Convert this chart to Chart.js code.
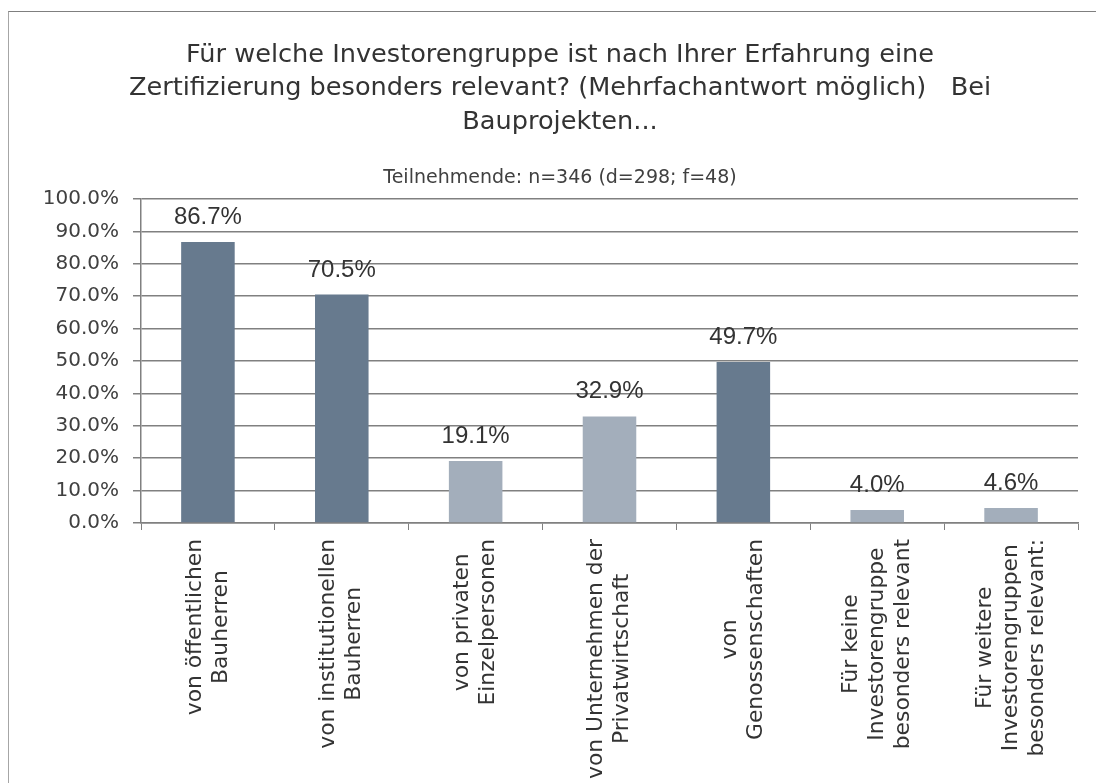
<!DOCTYPE html>
<html><head><meta charset="utf-8">
<script src="https://cdn.jsdelivr.net/npm/chart.js@4.4.1/dist/chart.umd.min.js"></script>
<style>
html,body{margin:0;padding:0;background:#fff;overflow:hidden;width:1096px;height:783px;}
#frame{position:absolute;left:8px;top:11px;width:1200px;height:900px;border-top:1px solid #7f7f7f;border-left:1px solid #a6a6a6;}
#wrap{position:absolute;left:42px;top:0;width:1054px;height:783px;}
</style></head><body>
<div id="frame"></div>
<div id="wrap"><canvas id="c" width="1054" height="783"></canvas></div>
<script>
const titleLines = [
  'Für welche Investorengruppe ist nach Ihrer Erfahrung eine',
  'Zertifizierung besonders relevant? (Mehrfachantwort möglich)   Bei',
  'Bauprojekten...'
];
const subtitleText = 'Teilnehmende: n=346 (d=298; f=48)';
const categories = [
  ['von öffentlichen', 'Bauherren'],
  ['von institutionellen', 'Bauherren'],
  ['von privaten', 'Einzelpersonen'],
  ['von Unternehmen der', 'Privatwirtschaft'],
  ['von', 'Genossenschaften'],
  ['Für keine', 'Investorengruppe', 'besonders relevant'],
  ['Für weitere', 'Investorengruppen', 'besonders relevant:']
];
const values = [86.7, 70.5, 19.1, 32.9, 49.7, 4.0, 4.6];
const yTickValues = [0, 10, 20, 30, 40, 50, 60, 70, 80, 90, 100];

const DARK = '#677a8e', LIGHT = '#a3aebb';
const FONT = 'DejaVu Sans';

const xLabelPlugin = {
  id: 'xLabels',
  afterDraw(chart) {
    const ctx = chart.ctx, xs = chart.scales.x, bottom = chart.chartArea.bottom;
    ctx.save();
    ctx.font = '21.8px "' + FONT + '"';
    ctx.fillStyle = '#333333';
    ctx.textAlign = 'center';
    ctx.textBaseline = 'middle';
    chart.data.labels.forEach((lines, i) => {
      const cx = xs.getPixelForValue(i);
      const maxW = Math.max(...lines.map(l => ctx.measureText(l).width));
      const cy = bottom + 16 + maxW / 2;
      lines.forEach((l, j) => {
        const x = cx + (j - (lines.length - 1) / 2) * 26;
        ctx.save(); ctx.translate(x, cy); ctx.rotate(-Math.PI / 2); ctx.fillText(l, 0, 0); ctx.restore();
      });
    });
    ctx.restore();
  }
};
const valueLabelPlugin = {
  id: 'valueLabels',
  afterDatasetsDraw(chart) {
    const ctx = chart.ctx;
    const meta = chart.getDatasetMeta(0);
    ctx.save();
    ctx.font = '24px "Liberation Sans"';
    ctx.fillStyle = '#333333';
    ctx.textAlign = 'center';
    ctx.textBaseline = 'alphabetic';
    meta.data.forEach((bar, i) => {
      const v = chart.data.datasets[0].data[i];
      ctx.fillText(v.toFixed(1) + '%', bar.x, bar.y - 18);
    });
    ctx.restore();
  }
};

new Chart(document.getElementById('c'), {
  type: 'bar',
  data: {
    labels: categories,
    datasets: [{
      data: values,
      backgroundColor: [DARK, DARK, LIGHT, LIGHT, DARK, LIGHT, LIGHT],
      borderWidth: 0,
      barPercentage: 0.4,
      categoryPercentage: 1.0
    }]
  },
  options: {
    responsive: false,
    animation: false,
    devicePixelRatio: 1,
    layout: { padding: { left: 0, right: 18, top: 0, bottom: 0 } },
    plugins: {
      legend: { display: false },
      tooltip: { enabled: false },
      title: {
        display: true,
        text: titleLines,
        color: '#333333',
        font: { family: FONT, size: 25.6, weight: 'normal', lineHeight: '33.5px' },
        padding: { top: 38.25, bottom: 0 }
      },
      subtitle: {
        display: true,
        text: subtitleText,
        color: '#404040',
        font: { family: FONT, size: 19, weight: 'normal', lineHeight: '20px' },
        padding: { top: 28.85, bottom: 11.4 }
      }
    },
    scales: {
      x: {
        offset: true,
        ticks: { display: false },
        grid: { drawOnChartArea: false, offset: true, color: '#808080', tickLength: 7, lineWidth: 1 },
        border: { color: '#808080', width: 1.5 },
        afterFit(s) { s.height = 260; }
      },
      y: {
        min: 0, max: 100,
        afterBuildTicks(s) { s.ticks = yTickValues.map(v => ({ value: v })); },
        ticks: {
          callback: v => v.toFixed(1) + '%',
          font: { family: FONT, size: 20 },
          color: '#404040',
          padding: 14
        },
        grid: { color: '#808080', lineWidth: 1.5, tickLength: 8 },
        border: { color: '#808080', width: 1.5 },
        afterFit(s) { s.width = 99; }
      }
    }
  },
  plugins: [xLabelPlugin, valueLabelPlugin]
});
</script>
</body></html>
